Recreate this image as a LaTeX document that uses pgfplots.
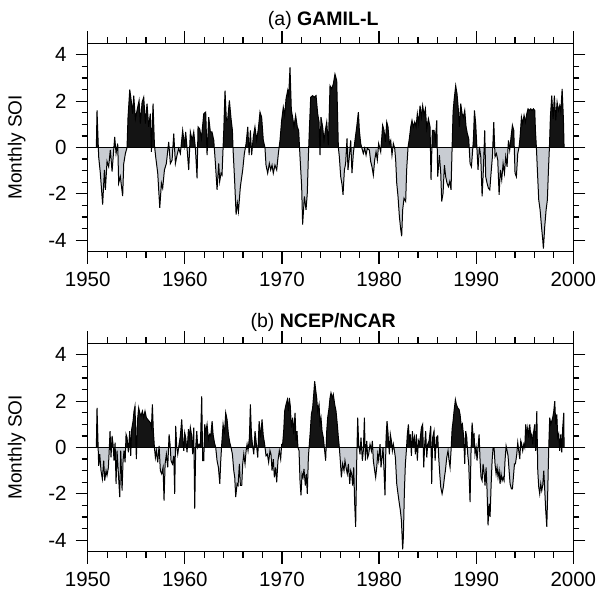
\documentclass[border=0pt]{standalone}
\usepackage{pgfplots}
\usepackage{pgfplotstable}
\pgfplotsset{compat=1.18}
\usepackage{fontspec}
\setmainfont{Liberation Sans}
\definecolor{negfill}{RGB}{200,204,210}
\definecolor{posfill}{RGB}{20,20,20}

\pgfplotstableread{
year soi
1950.89 0
1950.96 1.6
1951.13 -0.4
1951.30 -1.11
1951.54 -2.47
1951.72 -0.97
1951.82 -1.83
1951.99 -0.6
1952.16 -0.83
1952.33 -0.1
1952.51 -1.04
1952.78 0.46
1952.92 -0.26
1953.09 0.17
1953.19 -1.54
1953.36 -1.26
1953.60 -2.1
1953.71 -0.7
1953.88 -0.26
1954.05 0
1954.15 1.3
1954.33 2.5
1954.50 1.96
1954.63 1.46
1954.74 2.24
1954.91 1.24
1955.08 1.6
1955.29 2.03
1955.42 1.03
1955.60 1.96
1955.77 2.17
1955.94 1.03
1956.11 1.89
1956.28 0.89
1956.45 1.46
1956.56 -0.19
1956.73 1.89
1956.87 0.1
1957.00 -0.4
1957.21 -1.11
1957.42 -2.61
1957.59 -1.54
1957.72 -1.76
1957.90 -0.97
1958.10 -0.69
1958.34 0.24
1958.51 -0.69
1958.69 -0.54
1958.86 0.6
1959.03 -0.69
1959.20 -0.33
1959.37 -0.04
1959.54 -0.26
1959.78 0.74
1959.96 0.1
1960.09 0.67
1960.23 -0.04
1960.40 -0.97
1960.57 0.67
1960.75 0.31
1960.92 0.67
1961.09 -0.04
1961.26 -1.33
1961.36 0.89
1961.53 0.81
1961.71 0.39
1961.95 1.46
1962.15 1.53
1962.29 -0.33
1962.46 1.31
1962.63 0.67
1962.80 0.67
1962.98 0.31
1963.15 -0.69
1963.32 -1.83
1963.49 -0.69
1963.59 -1.47
1963.73 -1.11
1963.83 -1.19
1963.94 0
1964.01 0.74
1964.14 2.46
1964.28 1.17
1964.42 1.24
1964.59 2.03
1964.76 1.24
1964.90 0.74
1964.97 -0.1
1965.14 -1.54
1965.28 -2.9
1965.41 -2.4
1965.52 -2.76
1965.72 -1.69
1965.96 -0.97
1966.13 -0.26
1966.31 0.17
1966.48 0.89
1966.62 -0.33
1966.75 0.74
1966.88 -0.33
1967.05 0.46
1967.22 0.89
1967.40 0.31
1967.57 0.81
1967.74 1.53
1967.91 1.31
1968.08 0.31
1968.25 0
1968.36 -0.76
1968.53 -1.11
1968.70 -0.69
1968.84 -0.97
1968.98 -0.76
1969.11 -1.11
1969.28 -0.76
1969.46 -0.97
1969.63 -0.26
1969.80 0.31
1969.97 1.17
1970.14 1.74
1970.28 1.39
1970.42 2.1
1970.59 2.46
1970.69 2.17
1970.83 3.46
1970.97 1.6
1971.10 1.31
1971.24 0.89
1971.41 1.39
1971.58 0.89
1971.72 0.74
1971.86 -0.4
1972.03 -1.69
1972.13 -3.33
1972.31 -2.11
1972.48 -2.69
1972.61 -1.97
1972.72 -0.4
1972.82 0.74
1972.96 2.17
1973.16 2.24
1973.34 2.17
1973.51 2.24
1973.68 1.46
1973.82 1.1
1973.92 -0.33
1974.02 1.31
1974.19 0.89
1974.33 0.31
1974.47 0.74
1974.61 1.1
1974.78 0.1
1974.95 2.67
1975.12 2.53
1975.29 2.74
1975.46 3.17
1975.64 2.89
1975.81 0
1975.91 -0.4
1976.05 -1.26
1976.19 -1.61
1976.29 -2.04
1976.43 -0.97
1976.56 -0.69
1976.70 0.39
1976.80 -0.97
1976.94 -0.4
1977.08 0.31
1977.21 -1.11
1977.35 -0.26
1977.52 0.31
1977.70 0.89
1977.87 1.53
1977.97 0.74
1978.11 0.17
1978.24 -0.04
1978.38 -0.26
1978.52 -0.04
1978.66 -0.33
1978.79 -0.04
1979.00 -0.11
1979.14 -0.61
1979.27 -0.83
1979.41 -1.19
1979.55 -0.54
1979.69 -0.19
1979.82 -0.54
1979.96 0.17
1980.17 -0.19
1980.37 0.96
1980.51 0.74
1980.65 0.24
1980.79 1.1
1980.92 0.89
1981.06 0.17
1981.20 0.31
1981.33 -0.33
1981.47 0.17
1981.61 -0.04
1981.71 -0.54
1981.82 -1.54
1981.95 -2.11
1982.09 -2.97
1982.23 -3.54
1982.33 -3.83
1982.43 -2.69
1982.57 -2.19
1982.74 -2.33
1982.84 -0.97
1982.98 0
1983.12 0.39
1983.26 0.89
1983.39 1.17
1983.53 0.89
1983.67 1.1
1983.81 0.89
1983.94 1.46
1984.08 1.03
1984.22 1.81
1984.36 1.31
1984.49 1.81
1984.63 1.39
1984.77 1.67
1984.91 0.81
1985.08 1.24
1985.25 0.89
1985.35 -1.4
1985.49 0.74
1985.66 0.74
1985.80 0.31
1985.94 1.17
1986.04 -1.26
1986.21 -0.33
1986.35 -1.11
1986.45 -2.33
1986.59 -1.97
1986.73 -0.76
1986.86 -1.26
1987.00 -1.54
1987.14 -1.69
1987.28 -1.47
1987.41 -1.83
1987.52 0
1987.62 1.53
1987.72 2.03
1987.89 2.67
1988.03 2.31
1988.17 1.6
1988.27 0.89
1988.41 1.89
1988.55 1.46
1988.68 1.31
1988.82 1.6
1988.96 0.89
1989.09 0.6
1989.23 0.39
1989.37 -0.69
1989.51 -0.83
1989.61 -0.26
1989.71 0.31
1989.82 1.6
1989.95 1.03
1990.06 0.1
1990.19 -0.97
1990.33 0.03
1990.47 -0.4
1990.61 -2.11
1990.74 -0.97
1990.88 0.74
1990.98 -1.26
1991.12 -1.54
1991.26 -1.76
1991.40 -1.83
1991.53 -1.11
1991.67 -0.4
1991.81 1.1
1991.94 -0.4
1992.08 -0.26
1992.22 -0.54
1992.36 -2.04
1992.49 -0.97
1992.63 -1.4
1992.77 -0.69
1992.91 -1.11
1993.04 -0.4
1993.18 -0.83
1993.32 0.31
1993.45 -0.11
1993.59 0.46
1993.73 0.96
1993.87 0.74
1994.00 -1.11
1994.14 -1.26
1994.28 -0.26
1994.42 0.03
1994.52 0.46
1994.66 1.31
1994.79 1.03
1994.93 1.39
1995.07 1.1
1995.21 1.46
1995.34 1.67
1995.48 1.6
1995.62 1.67
1995.75 1.6
1995.89 1.67
1996.03 1.6
1996.10 0.74
1996.20 0
1996.30 -0.97
1996.44 -2.26
1996.58 -2.69
1996.72 -3.4
1996.85 -3.97
1996.92 -4.37
1997.06 -3.4
1997.20 -2.69
1997.33 -2.26
1997.44 -0.97
1997.54 0
1997.64 1.31
1997.78 2.24
1997.92 1.24
1998.05 2.24
1998.19 1.17
1998.33 1.96
1998.47 1.6
1998.60 1.81
1998.71 1.53
1998.85 2.53
1998.98 1.24
1999.05 0
}\dataA

\pgfplotstableread{
year soi
1950.89 0
1950.96 1.71
1951.13 -0.79
1951.24 -0.29
1951.37 -1.0
1951.51 -1.36
1951.65 -0.57
1951.75 -1.43
1951.89 -1.0
1951.99 -1.21
1952.13 -0.86
1952.23 0
1952.30 0.71
1952.40 -0.43
1952.51 0.5
1952.61 0.14
1952.71 -0.57
1952.82 0.21
1952.92 -1.57
1953.02 -0.14
1953.16 -1.14
1953.30 -2.14
1953.40 -0.14
1953.54 -1.86
1953.64 -0.57
1953.74 -0.14
1953.85 -0.64
1953.95 0.57
1954.05 0.43
1954.19 -0.21
1954.33 0.71
1954.43 -0.36
1954.53 0.79
1954.67 1.14
1954.77 1.57
1954.87 1.79
1955.01 -0.5
1955.12 1.14
1955.25 1.71
1955.36 1.5
1955.49 1.36
1955.63 1.57
1955.77 1.29
1955.90 1.57
1956.04 1.29
1956.18 1.21
1956.32 1.14
1956.45 1.07
1956.56 0.86
1956.66 1.86
1956.76 0.71
1956.87 0
1956.97 -0.43
1957.07 -0.14
1957.21 -0.64
1957.35 0.07
1957.48 -1.0
1957.62 -1.14
1957.76 -0.86
1957.86 -2.29
1957.97 -0.71
1958.10 -0.29
1958.24 -0.86
1958.38 0.57
1958.48 0.14
1958.58 -0.57
1958.72 -0.71
1958.86 -0.36
1958.96 -2.0
1959.06 0.93
1959.17 0
1959.27 -0.29
1959.41 0.14
1959.54 0.5
1959.68 1.21
1959.78 0.43
1959.89 -0.14
1959.99 0.64
1960.09 0.43
1960.23 -0.21
1960.37 0.79
1960.47 0.43
1960.57 0.86
1960.71 0.5
1960.81 -0.29
1960.92 0.86
1961.02 -2.64
1961.12 0
1961.23 0.71
1961.33 0
1961.47 0.14
1961.60 0.07
1961.74 2.21
1961.84 -0.57
1961.95 -0.57
1962.05 1.0
1962.15 0.64
1962.29 1.0
1962.43 0.36
1962.56 0.57
1962.67 0.5
1962.81 1.14
1962.91 0.57
1963.05 0.21
1963.18 0
1963.32 -0.57
1963.46 -0.86
1963.60 -1.57
1963.70 -0.57
1963.80 0.14
1963.94 1.0
1964.08 0.57
1964.21 1.5
1964.35 1.21
1964.49 0.57
1964.63 0.21
1964.76 0
1964.90 -0.29
1965.04 -1.0
1965.14 -1.29
1965.24 -2.14
1965.38 -1.57
1965.48 -1.64
1965.62 -0.71
1965.72 -1.64
1965.86 -1.64
1965.96 -0.71
1966.07 -0.29
1966.20 -0.71
1966.31 -0.14
1966.41 0.14
1966.51 -0.14
1966.65 0.43
1966.75 1.86
1966.86 0.57
1966.96 0.14
1967.10 -0.29
1967.23 0.71
1967.37 0.14
1967.51 -0.43
1967.65 1.14
1967.81 0.43
1967.95 1.21
1968.08 0.5
1968.22 0.14
1968.36 -0.36
1968.50 -0.29
1968.63 -0.64
1968.77 -0.14
1968.87 -0.29
1968.98 -1.0
1969.11 -0.5
1969.22 -1.29
1969.35 -0.86
1969.46 -1.5
1969.59 -0.57
1969.73 -0.14
1969.87 -0.5
1969.97 0.14
1970.07 0.14
1970.18 0.71
1970.28 1.57
1970.42 1.86
1970.56 2.07
1970.66 1.57
1970.76 2.14
1970.86 1.79
1970.97 0.86
1971.10 1.29
1971.21 0.57
1971.35 1.5
1971.45 0.29
1971.55 0.71
1971.65 0
1971.76 -0.14
1971.86 -1.43
1971.96 -2.07
1972.07 -1.14
1972.17 -1.29
1972.27 -0.93
1972.41 -1.64
1972.51 -1.14
1972.61 -2.0
1972.72 -0.43
1972.82 0.14
1972.92 0.71
1973.03 1.43
1973.16 1.71
1973.27 2.29
1973.37 2.86
1973.47 2.5
1973.58 2.14
1973.68 1.57
1973.82 1.86
1973.92 1.07
1974.02 1.29
1974.13 0.71
1974.26 0.43
1974.40 -0.14
1974.50 -0.57
1974.61 0.71
1974.71 1.29
1974.85 1.71
1974.95 2.14
1975.05 2.36
1975.19 2.14
1975.29 2.29
1975.43 1.86
1975.57 1.57
1975.70 1.0
1975.81 0.43
1975.91 0
1976.01 -0.57
1976.12 -1.29
1976.25 -0.71
1976.39 -1.0
1976.49 -0.57
1976.60 -0.86
1976.73 -1.14
1976.84 -0.71
1976.98 -1.57
1977.08 -1.0
1977.18 -1.14
1977.28 -1.64
1977.39 -0.86
1977.49 -2.43
1977.59 -3.43
1977.70 -0.57
1977.80 1.29
1977.90 0.14
1978.04 -0.29
1978.14 0.43
1978.28 -0.57
1978.38 -0.14
1978.49 1.29
1978.59 -0.57
1978.73 0.29
1978.83 -0.43
1978.93 -0.29
1979.07 0.14
1979.21 -0.14
1979.31 0.29
1979.41 -0.57
1979.55 -1.0
1979.65 -1.29
1979.76 -0.86
1979.86 -0.29
1979.96 -0.57
1980.10 0.14
1980.20 -0.86
1980.31 -0.43
1980.41 0
1980.51 -1.0
1980.61 -2.07
1980.72 0.43
1980.82 1.14
1980.92 0.64
1981.06 -0.29
1981.16 0.57
1981.27 0.29
1981.37 -0.14
1981.47 0.14
1981.58 -0.14
1981.68 -0.43
1981.82 -1.57
1981.95 -2.0
1982.09 -2.43
1982.19 -2.71
1982.30 -3.14
1982.36 -3.71
1982.43 -4.4
1982.50 -3.9
1982.61 -1.86
1982.71 -0.71
1982.81 -0.14
1982.91 0.57
1983.02 1.0
1983.12 0.29
1983.22 0.57
1983.33 -0.36
1983.43 0.71
1983.53 0.14
1983.64 0.43
1983.74 -0.29
1983.84 0.57
1983.94 -0.57
1984.05 0.29
1984.15 0.14
1984.25 0.43
1984.36 0.86
1984.49 1.0
1984.60 -0.86
1984.70 0.14
1984.80 0.71
1984.91 -0.43
1985.01 0.14
1985.15 0.29
1985.32 0.93
1985.42 -1.57
1985.52 0.43
1985.66 0.71
1985.77 -0.57
1985.90 0.43
1986.04 0.5
1986.14 -0.43
1986.25 -1.14
1986.35 -1.71
1986.49 -2.0
1986.62 -1.71
1986.73 -1.29
1986.83 -1.0
1986.97 -0.43
1987.10 -0.14
1987.21 -0.57
1987.31 -0.86
1987.41 -0.14
1987.52 0.79
1987.62 1.14
1987.72 1.57
1987.86 2.07
1987.96 1.86
1988.10 1.71
1988.24 1.64
1988.34 1.43
1988.48 0.86
1988.58 1.0
1988.72 0.43
1988.82 -0.71
1988.92 0.71
1989.03 0.43
1989.13 -0.29
1989.23 -0.71
1989.37 -2.36
1989.47 -0.14
1989.58 1.07
1989.68 0.5
1989.78 0.57
1989.88 -0.29
1989.99 0
1990.09 -0.57
1990.19 0
1990.30 0.57
1990.40 -0.57
1990.50 -1.29
1990.61 -1.43
1990.71 -0.71
1990.81 -1.07
1990.91 -1.64
1991.02 -0.86
1991.12 -1.86
1991.22 -3.36
1991.33 -2.43
1991.43 -3.0
1991.53 -1.71
1991.64 -0.57
1991.74 0
1991.84 0
1991.94 -0.71
1992.05 -1.14
1992.15 -0.86
1992.25 -1.29
1992.36 -1.0
1992.46 -1.57
1992.56 -1.14
1992.67 -1.43
1992.77 -1.29
1992.87 -1.43
1992.97 -0.57
1993.08 0.07
1993.18 -0.14
1993.28 -0.36
1993.39 -1.0
1993.49 -1.57
1993.63 -1.79
1993.73 -1.79
1993.83 -1.29
1993.94 -0.71
1994.04 -0.71
1994.18 -0.29
1994.28 0.21
1994.38 -0.14
1994.49 -0.5
1994.59 0.29
1994.69 0.14
1994.79 -0.14
1994.90 0.14
1995.00 0
1995.10 1.0
1995.21 0.57
1995.31 0.86
1995.41 0.43
1995.52 1.0
1995.62 0.43
1995.72 0.57
1995.82 0.14
1995.93 0.71
1996.03 1.0
1996.13 -0.14
1996.24 1.57
1996.34 -1.0
1996.44 -1.71
1996.54 -2.0
1996.65 -1.57
1996.75 -1.86
1996.85 -1.64
1996.96 -1.0
1997.06 -1.86
1997.16 -2.71
1997.27 -3.43
1997.37 -1.86
1997.47 0
1997.57 1.29
1997.68 1.0
1997.78 1.14
1997.88 1.29
1997.99 1.57
1998.09 2.0
1998.19 1.0
1998.30 1.43
1998.40 0.43
1998.50 0.57
1998.60 -0.14
1998.71 0.57
1998.81 -0.21
1998.91 0.86
1999.02 1.5
1999.05 0
}\dataB

\pgfplotsset{
  soiaxis/.style={
    scale only axis,
    width=242.8pt, height=104.2pt,
    xmin=1950, xmax=2000, ymin=-4.5, ymax=4.5,
    xtick={1950,1960,...,2000},
    ytick={-4,-2,0,2,4},
    minor x tick num=4,
    minor y tick num=3,
    tick align=outside,
    major tick length=6pt,
    minor tick length=3pt,
    axis line style={line width=0.6pt},
    every tick/.style={black, line width=0.6pt},
    /pgf/number format/assume math mode=true,
    /pgf/number format/1000 sep={},
    tick label style={font=\fontsize{10.25}{12}\selectfont},
    xticklabel style={yshift=-0.5pt},
    yticklabel style={xshift=-1pt},
    ylabel={Monthly SOI},
    ylabel style={at={(axis description cs:-0.136,0.5)}, anchor=base, font=\fontsize{9.5}{11}\selectfont},
    title style={at={(axis description cs:0.485,1)}, anchor=base, font=\fontsize{9.75}{11}\selectfont},
  },
}

\begin{document}
\begin{tikzpicture}
\useasboundingbox (-43.85pt,-21.15pt) rectangle (255.15pt,275.85pt);
\begin{axis}[soiaxis, at={(0,150pt)}, title={(a) \textbf{GAMIL-L}},
  title style={yshift=3.1pt}]
  \begin{scope}
    \clip (axis cs:1950,0) rectangle (axis cs:2000,4.6);
    \addplot[draw=none, fill=posfill] table[x=year, y=soi] {\dataA} -- cycle;
  \end{scope}
  \begin{scope}
    \clip (axis cs:1950,-4.6) rectangle (axis cs:2000,0);
    \addplot[draw=none, fill=negfill] table[x=year, y=soi] {\dataA} -- cycle;
  \end{scope}
  \addplot[black, line width=0.5pt] table[x=year, y=soi] {\dataA};
  \addplot[black, line width=0.6pt] coordinates {(1950,0) (2000,0)};
\end{axis}
\begin{axis}[soiaxis, at={(0,0)}, title={(b) \textbf{NCEP/NCAR}},
  title style={yshift=1.9pt}]
  \begin{scope}
    \clip (axis cs:1950,0) rectangle (axis cs:2000,4.6);
    \addplot[draw=none, fill=posfill] table[x=year, y=soi] {\dataB} -- cycle;
  \end{scope}
  \begin{scope}
    \clip (axis cs:1950,-4.6) rectangle (axis cs:2000,0);
    \addplot[draw=none, fill=negfill] table[x=year, y=soi] {\dataB} -- cycle;
  \end{scope}
  \addplot[black, line width=0.5pt] table[x=year, y=soi] {\dataB};
  \addplot[black, line width=0.6pt] coordinates {(1950,0) (2000,0)};
\end{axis}
\end{tikzpicture}
\end{document}
